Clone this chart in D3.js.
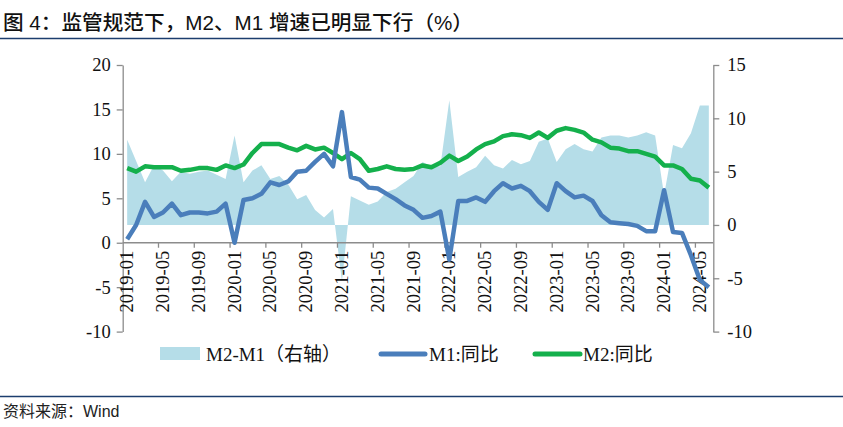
<!DOCTYPE html>
<html><head><meta charset="utf-8">
<script src="https://cdn.jsdelivr.net/npm/d3@7"></script>
<style>body{margin:0;background:#fff} svg{display:block}</style>
</head><body>
<svg id="c" width="843" height="427"></svg>
<script>
const categories = [
"2019-01","2019-02","2019-03","2019-04","2019-05","2019-06","2019-07","2019-08","2019-09","2019-10","2019-11","2019-12",
"2020-01","2020-02","2020-03","2020-04","2020-05","2020-06","2020-07","2020-08","2020-09","2020-10","2020-11","2020-12",
"2021-01","2021-02","2021-03","2021-04","2021-05","2021-06","2021-07","2021-08","2021-09","2021-10","2021-11","2021-12",
"2022-01","2022-02","2022-03","2022-04","2022-05","2022-06","2022-07","2022-08","2022-09","2022-10","2022-11","2022-12",
"2023-01","2023-02","2023-03","2023-04","2023-05","2023-06","2023-07","2023-08","2023-09","2023-10","2023-11","2023-12",
"2024-01","2024-02","2024-03","2024-04","2024-05","2024-06"];
const m1Yoy = [
0.4,2.0,4.6,2.9,3.4,4.4,3.1,3.4,3.4,3.3,3.5,4.4,
0.0,4.8,5.0,5.5,6.8,6.5,6.9,8.0,8.1,9.1,10.0,8.6,
14.7,7.4,7.1,6.2,6.1,5.5,4.9,4.2,3.7,2.8,3.0,3.5,
-1.9,4.7,4.7,5.1,4.6,5.8,6.7,6.1,6.4,5.8,4.6,3.7,
6.7,5.8,5.1,5.3,4.7,3.1,2.3,2.2,2.1,1.9,1.3,1.3,
5.9,1.2,1.1,-1.4,-4.2,-5.0];
const m2Yoy = [
8.4,8.0,8.6,8.5,8.5,8.5,8.1,8.2,8.4,8.4,8.2,8.7,
8.4,8.8,10.1,11.1,11.1,11.1,10.7,10.4,10.9,10.5,10.7,10.1,
9.4,10.1,9.4,8.1,8.3,8.6,8.3,8.2,8.3,8.7,8.5,9.0,
9.8,9.2,9.7,10.5,11.1,11.4,12.0,12.2,12.1,11.8,12.4,11.8,
12.6,12.9,12.7,12.4,11.6,11.3,10.7,10.6,10.3,10.3,10.0,9.7,
8.7,8.7,8.3,7.2,7.0,6.2];
const m2m1Gap = [
8.0,6.0,4.0,5.6,5.1,4.1,5.0,4.8,5.0,5.1,4.7,4.3,
8.4,4.0,5.1,5.6,4.3,4.6,3.8,2.4,2.8,1.4,0.7,1.5,
-5.3,2.7,2.3,1.9,2.2,3.1,3.4,4.0,4.6,5.9,5.5,5.5,
11.7,4.5,5.0,5.4,6.5,5.6,5.3,6.1,5.7,6.0,7.8,8.1,
5.9,7.1,7.6,7.1,6.9,8.2,8.4,8.4,8.2,8.4,8.7,8.4,
2.8,7.5,7.2,8.6,11.2,11.2];
const leftTicks = [20,15,10,5,0,-5,-10];
const rightTicks = [15,10,5,0,-5,-10];
const seriesNames = ["M2-M1（右轴）","M1:同比","M2:同比"];
const titleText = "图 4：监管规范下，M2、M1 增速已明显下行（%）";
const sourceText = "资料来源：Wind";

const colArea = "#b5dde8", colM1 = "#4a7ebb", colM2 = "#14b04c", axisCol = "#8c8c8c";
const serif = "'Liberation Serif','Times New Roman',serif";
const cjk = "'Noto Sans CJK SC','Noto Sans',sans-serif";
const sans = "'Liberation Sans',Arial," + cjk;

const svg = d3.select("#c");
const x = d3.scaleBand().domain(categories).range([122.7, 713.3]);
const yL = d3.scaleLinear().domain([-10, 20]).range([331.6, 65]);
const yR = d3.scaleLinear().domain([-10, 15]).range([331.6, 65]);
const cx = c => x(c) + x.bandwidth() / 2;
const fmt = d => String(d);

// title
svg.append("text").attr("x", 3).attr("y", 30).attr("font-family", sans).attr("font-size", 20)
  .attr("font-weight", 500).attr("fill", "#111").attr("textLength", 470).attr("lengthAdjust", "spacingAndGlyphs").text(titleText);
svg.append("line").attr("x1", 0).attr("x2", 843).attr("y1", 38.5).attr("y2", 38.5).attr("stroke", "#1c3d6e").attr("stroke-width", 1.6);
svg.append("line").attr("x1", 0).attr("x2", 843).attr("y1", 396.5).attr("y2", 396.5).attr("stroke", "#1c3d6e").attr("stroke-width", 1.4);
svg.append("text").attr("x", 3).attr("y", 417).attr("font-family", sans).attr("font-size", 16)
  .attr("fill", "#222").text(sourceText);

// area
const area = d3.area().x((d, i) => cx(categories[i])).y0(yR(0)).y1(d => yR(d));
svg.append("path").datum(m2m1Gap).attr("d", area).attr("fill", colArea);

// axes
const gL = svg.append("g").attr("transform", "translate(122.7,0)")
  .call(d3.axisLeft(yL).tickValues(leftTicks).tickSize(6).tickSizeOuter(0).tickPadding(6).tickFormat(fmt));
const gR = svg.append("g").attr("transform", "translate(713.3,0)")
  .call(d3.axisRight(yR).tickValues(rightTicks).tickSize(6).tickSizeOuter(0).tickPadding(8).tickFormat(fmt));
[gL, gR].forEach(g => {
  g.selectAll("path,line").attr("stroke", axisCol).attr("stroke-width", 1.3);
  g.selectAll("text").attr("font-family", serif).attr("font-size", 18.5).attr("fill", "#111");
});

// x axis
const y0 = yL(0);
svg.append("line").attr("x1", 122.7).attr("x2", 713.3).attr("y1", y0).attr("y2", y0).attr("stroke", axisCol).attr("stroke-width", 1.3);
const labeled = categories.filter((c, i) => i % 4 === 0);
svg.append("g").selectAll("line").data(labeled.slice(1)).join("line")
  .attr("x1", d => x(d)).attr("x2", d => x(d)).attr("y1", y0).attr("y2", y0 + 5)
  .attr("stroke", axisCol).attr("stroke-width", 1.3);
svg.append("g").selectAll("text").data(labeled).join("text")
  .attr("transform", d => `translate(${cx(d)},${y0 + 8}) rotate(-90)`)
  .attr("text-anchor", "end").attr("dy", "0.33em")
  .attr("font-family", serif).attr("font-size", 18.5).attr("fill", "#111").text(d => d);

// lines
const lineL = d3.line().x((d, i) => cx(categories[i])).y(d => yL(d));
svg.append("path").datum(m2Yoy).attr("d", lineL).attr("fill", "none").attr("stroke", colM2)
  .attr("stroke-width", 4.5).attr("stroke-linejoin", "round");
svg.append("path").datum(m1Yoy).attr("d", lineL).attr("fill", "none").attr("stroke", colM1)
  .attr("stroke-width", 4.5).attr("stroke-linejoin", "round");

// legend
const ly = 354;
svg.append("rect").attr("x", 160).attr("y", ly - 7).attr("width", 40).attr("height", 13).attr("fill", colArea);
const legText = (xp, t) => svg.append("text").attr("x", xp).attr("y", ly + 6.5).attr("font-family", serif + "," + cjk)
  .attr("font-size", 19).attr("fill", "#111").text(t);
legText(206, seriesNames[0]);
svg.append("line").attr("x1", 381).attr("x2", 425).attr("y1", ly).attr("y2", ly).attr("stroke", colM1).attr("stroke-width", 5).attr("stroke-linecap", "round");
legText(429, seriesNames[1]);
svg.append("line").attr("x1", 535).attr("x2", 580).attr("y1", ly).attr("y2", ly).attr("stroke", colM2).attr("stroke-width", 5).attr("stroke-linecap", "round");
legText(583, seriesNames[2]);
</script>
</body></html>
